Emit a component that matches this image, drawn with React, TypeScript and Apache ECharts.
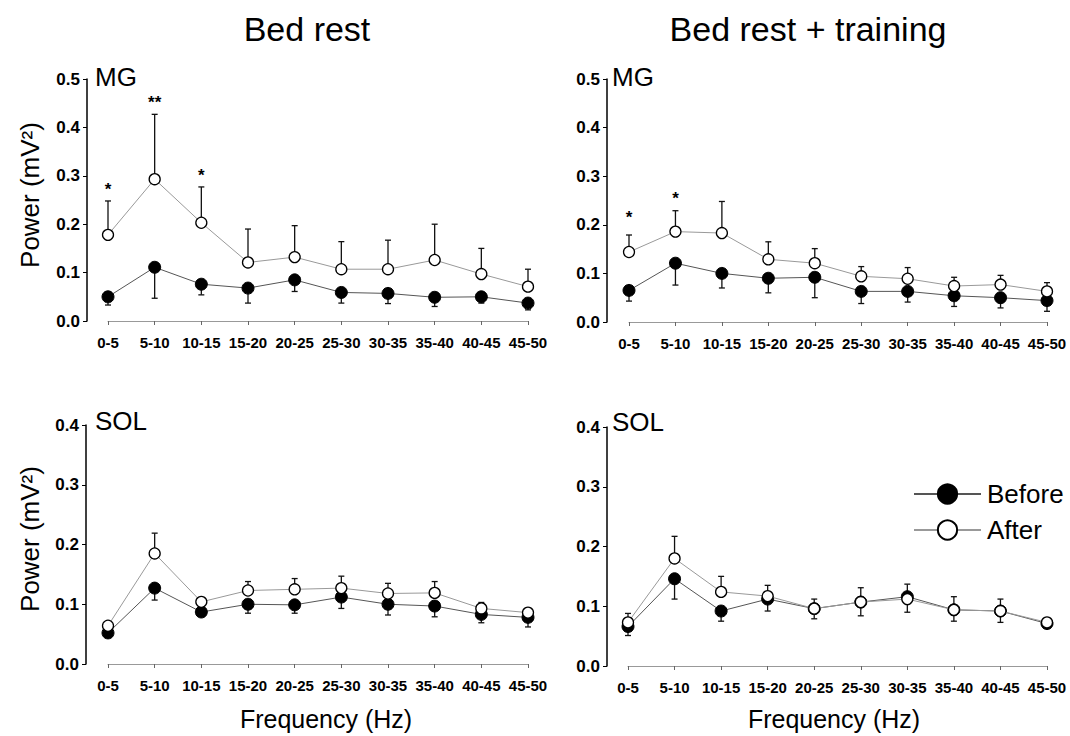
import React, { useEffect, useRef } from 'react';
import * as echarts from 'echarts';

const categories = ['0-5', '5-10', '10-15', '15-20', '20-25', '25-30', '30-35', '35-40', '40-45', '45-50'];

// MG, Bed rest
const mgBrBefore = [0.050, 0.111, 0.076, 0.068, 0.085, 0.059, 0.057, 0.049, 0.050, 0.037];
const mgBrBeforeLow = [0.033, 0.047, 0.054, 0.037, 0.061, 0.037, 0.036, 0.030, 0.037, 0.023];
const mgBrAfter = [0.178, 0.293, 0.203, 0.121, 0.132, 0.107, 0.107, 0.126, 0.097, 0.071];
const mgBrAfterHigh = [0.248, 0.427, 0.277, 0.190, 0.197, 0.164, 0.167, 0.200, 0.150, 0.107];

// MG, Bed rest + training
const mgTrBefore = [0.065, 0.121, 0.100, 0.090, 0.092, 0.063, 0.063, 0.054, 0.050, 0.044];
const mgTrBeforeLow = [0.043, 0.076, 0.070, 0.060, 0.050, 0.038, 0.041, 0.032, 0.029, 0.022];
const mgTrAfter = [0.144, 0.186, 0.183, 0.129, 0.121, 0.094, 0.089, 0.074, 0.077, 0.063];
const mgTrAfterHigh = [0.179, 0.229, 0.248, 0.165, 0.151, 0.114, 0.112, 0.092, 0.096, 0.081];

// SOL, Bed rest
const solBrBefore = [0.052, 0.127, 0.087, 0.100, 0.099, 0.112, 0.100, 0.097, 0.083, 0.078];
const solBrBeforeLow = [0.045, 0.107, 0.080, 0.085, 0.085, 0.093, 0.082, 0.079, 0.069, 0.062];
const solBrAfter = [0.064, 0.185, 0.104, 0.123, 0.125, 0.127, 0.118, 0.119, 0.093, 0.086];
const solBrAfterHigh = [0.070, 0.219, 0.110, 0.138, 0.143, 0.147, 0.135, 0.138, 0.103, 0.092];

// SOL, Bed rest + training
const solTrBefore = [0.066, 0.146, 0.092, 0.112, 0.096, 0.107, 0.116, 0.094, 0.092, 0.071];
const solTrBeforeLow = [0.051, 0.112, 0.075, 0.092, 0.079, 0.084, 0.090, 0.075, 0.073, 0.065];
const solTrAfter = [0.073, 0.180, 0.124, 0.117, 0.096, 0.107, 0.112, 0.094, 0.092, 0.073];
const solTrAfterHigh = [0.088, 0.217, 0.150, 0.135, 0.112, 0.131, 0.137, 0.116, 0.112, 0.078];

// significance markers
const mgBrStarCats = ['0-5', '5-10', '10-15'];
const mgBrStarY = [0.272, 0.452, 0.300];
const mgBrStarText = ['*', '**', '*'];
const mgTrStarCats = ['0-5', '5-10'];
const mgTrStarY = [0.216, 0.255];
const mgTrStarText = ['*', '*'];

const panelTitles = ['Bed rest', 'Bed rest + training'];
const muscleLabels = ['MG', 'SOL'];
const yMaxes = [0.5, 0.5, 0.4, 0.4];
const yTitle = 'Power (mV²)';
const xTitle = 'Frequency (Hz)';

const FONT = '"Liberation Sans", Arial, Helvetica, sans-serif';

function errorSeries(idx: number, low: number[], high: number[], capAtTop: boolean) {
  return {
    type: 'custom',
    xAxisIndex: idx,
    yAxisIndex: idx,
    silent: true,
    z: 1,
    data: categories.map((_, i) => [i, low[i], high[i]]),
    renderItem: (params: any, api: any) => {
      const x = api.value(0);
      const lo = api.coord([x, api.value(1)]);
      const hi = api.coord([x, api.value(2)]);
      const capY = capAtTop ? hi[1] : lo[1];
      const w = 3;
      return {
        type: 'group',
        children: [
          { type: 'line', shape: { x1: lo[0], y1: lo[1], x2: hi[0], y2: hi[1] }, style: { stroke: '#111', lineWidth: 1.3 } },
          { type: 'line', shape: { x1: lo[0] - w, y1: capY, x2: lo[0] + w, y2: capY }, style: { stroke: '#111', lineWidth: 1.3 } },
        ],
      };
    },
  };
}

function starSeries(idx: number, cats: string[], ys: number[], texts: string[]) {
  return {
    type: 'custom',
    xAxisIndex: idx,
    yAxisIndex: idx,
    silent: true,
    z: 5,
    data: cats.map((c, i) => [categories.indexOf(c), ys[i]]),
    renderItem: (params: any, api: any) => {
      const p = api.coord([api.value(0), api.value(1)]);
      return {
        type: 'text',
        x: p[0],
        y: p[1],
        style: {
          text: texts[params.dataIndex],
          fill: '#000',
          font: `bold 17px ${FONT}`,
          align: 'center',
          verticalAlign: 'middle',
        },
      };
    },
  };
}

function beforeSeries(idx: number, data: number[]) {
  return {
    name: 'Before',
    type: 'line',
    xAxisIndex: idx,
    yAxisIndex: idx,
    data,
    z: 3,
    symbol: 'circle',
    symbolSize: 12,
    showSymbol: true,
    itemStyle: { color: '#000', borderColor: '#000', borderWidth: 1 },
    lineStyle: { color: '#555', width: 1 },
  };
}

function afterSeries(idx: number, data: number[]) {
  return {
    name: 'After',
    type: 'line',
    xAxisIndex: idx,
    yAxisIndex: idx,
    data,
    z: 4,
    symbol: 'circle',
    symbolSize: 11,
    showSymbol: true,
    itemStyle: { color: '#fff', borderColor: '#000', borderWidth: 1.3 },
    lineStyle: { color: '#999', width: 1 },
  };
}

const grids = [
  { left: 108, top: 79, width: 420, height: 242 },
  { left: 629, top: 79, width: 418, height: 243 },
  { left: 108, top: 425, width: 420, height: 239 },
  { left: 628, top: 427, width: 419, height: 239 },
];
const yOffsets = [21, 22, 22, 21];

export default function App() {
  const ref = useRef<HTMLDivElement>(null);

  useEffect(() => {
    if (!ref.current) return;
    const chart = echarts.init(ref.current, null, { renderer: 'svg' });

    const xAxes = grids.map((_, i) => ({
      type: 'category',
      gridIndex: i,
      data: categories,
      boundaryGap: false,
      offset: 5,
      axisLine: { show: true, lineStyle: { color: '#999', width: 1 } },
      axisTick: { show: true, length: 4, lineStyle: { color: '#666' }, interval: 0 },
      axisLabel: {
        interval: 0,
        margin: 9,
        color: '#000',
        fontSize: 15,
        fontWeight: 'bold',
        fontFamily: FONT,
      },
      splitLine: { show: false },
    }));

    const yAxes = grids.map((_, i) => ({
      type: 'value',
      gridIndex: i,
      min: 0,
      max: yMaxes[i],
      interval: 0.1,
      offset: yOffsets[i],
      axisLine: { show: true, lineStyle: { color: '#000', width: 1.5 } },
      axisTick: { show: true, length: 4, lineStyle: { color: '#000' } },
      axisLabel: {
        color: '#000',
        fontSize: 17,
        fontWeight: 'bold',
        fontFamily: FONT,
        margin: 7,
        formatter: (v: number) => v.toFixed(1),
      },
      splitLine: { show: false },
    }));

    const textStyle = (size: number, weight = 'normal') => ({
      fill: '#000',
      font: `${weight} ${size}px ${FONT}`,
    });

    const graphics: any[] = [
      { type: 'text', x: 307, y: 29, style: { ...textStyle(34), text: panelTitles[0], align: 'center', verticalAlign: 'middle' } },
      { type: 'text', x: 808, y: 29, style: { ...textStyle(34), text: panelTitles[1], align: 'center', verticalAlign: 'middle' } },
      { type: 'text', x: 95, y: 77, style: { ...textStyle(26), text: muscleLabels[0], align: 'left', verticalAlign: 'middle' } },
      { type: 'text', x: 612, y: 77, style: { ...textStyle(26), text: muscleLabels[0], align: 'left', verticalAlign: 'middle' } },
      { type: 'text', x: 95, y: 421, style: { ...textStyle(26), text: muscleLabels[1], align: 'left', verticalAlign: 'middle' } },
      { type: 'text', x: 612, y: 422, style: { ...textStyle(26), text: muscleLabels[1], align: 'left', verticalAlign: 'middle' } },
      { type: 'text', x: 30, y: 195, rotation: Math.PI / 2, style: { ...textStyle(26), text: yTitle, align: 'center', verticalAlign: 'middle' } },
      { type: 'text', x: 30, y: 539, rotation: Math.PI / 2, style: { ...textStyle(26), text: yTitle, align: 'center', verticalAlign: 'middle' } },
      { type: 'text', x: 326, y: 719, style: { ...textStyle(25), text: xTitle, align: 'center', verticalAlign: 'middle' } },
      { type: 'text', x: 834, y: 719, style: { ...textStyle(25), text: xTitle, align: 'center', verticalAlign: 'middle' } },
    ];

    chart.setOption({
      animation: false,
      backgroundColor: '#fff',
      grid: grids,
      xAxis: xAxes,
      yAxis: yAxes,
      legend: {
        orient: 'vertical',
        left: 908,
        top: 476,
        itemWidth: 67,
        itemHeight: 24,
        itemGap: 10,
        selectedMode: false,
        data: ['Before', 'After'],
        textStyle: { fontSize: 26, fontFamily: FONT, color: '#000', padding: [0, 0, 0, 1] },
      },
      graphic: graphics,
      series: [
        errorSeries(0, mgBrBeforeLow, mgBrBefore, false),
        errorSeries(0, mgBrAfter, mgBrAfterHigh, true),
        beforeSeries(0, mgBrBefore),
        afterSeries(0, mgBrAfter),
        starSeries(0, mgBrStarCats, mgBrStarY, mgBrStarText),

        errorSeries(1, mgTrBeforeLow, mgTrBefore, false),
        errorSeries(1, mgTrAfter, mgTrAfterHigh, true),
        beforeSeries(1, mgTrBefore),
        afterSeries(1, mgTrAfter),
        starSeries(1, mgTrStarCats, mgTrStarY, mgTrStarText),

        errorSeries(2, solBrBeforeLow, solBrBefore, false),
        errorSeries(2, solBrAfter, solBrAfterHigh, true),
        beforeSeries(2, solBrBefore),
        afterSeries(2, solBrAfter),

        errorSeries(3, solTrBeforeLow, solTrBefore, false),
        errorSeries(3, solTrAfter, solTrAfterHigh, true),
        beforeSeries(3, solTrBefore),
        afterSeries(3, solTrAfter),
      ],
    });

    return () => chart.dispose();
  }, []);

  return (
    <div
      ref={ref}
      style={{ position: 'fixed', left: 0, top: 0, width: 1070, height: 736, background: '#fff' }}
    />
  );
}
